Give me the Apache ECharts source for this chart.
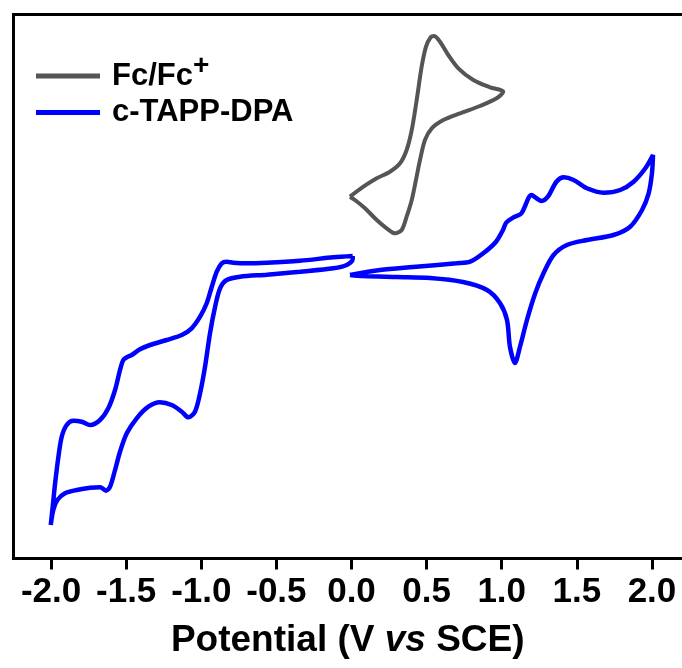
<!DOCTYPE html>
<html>
<head>
<meta charset="utf-8">
<script src="https://cdn.jsdelivr.net/npm/echarts@6/dist/echarts.min.js"></script>
<style>
html,body{margin:0;padding:0;background:#fff;}
#chart{width:682px;height:668px;}
</style>
</head>
<body>
<div id="chart"></div>
<script>
// Potential (V vs SCE) and current (arbitrary units)
var fcPotential = [-0.010,0.079,0.168,0.256,0.323,0.367,0.401,0.434,0.467,0.496,0.527,0.549,0.589,0.644,0.711,0.811,0.922,1.010,0.966,0.855,0.722,0.611,0.534,0.489,0.456,0.429,0.401,0.367,0.334,0.290,0.234,0.168,0.090,0.023,-0.010];
var fcCurrent = [36.18,37.18,38.02,38.68,39.52,40.85,42.85,45.85,49.18,51.18,52.12,52.25,51.68,50.35,49.02,47.85,47.12,46.68,46.02,45.25,44.52,43.85,43.02,41.85,39.85,37.85,35.85,34.18,32.85,32.52,33.02,33.85,35.02,35.85,36.18];

var negPotential = [0.008,-0.121,-0.343,-0.564,-0.698,-0.787,-0.831,-0.864,-0.897,-0.930,-0.964,-1.008,-1.064,-1.130,-1.230,-1.341,-1.408,-1.463,-1.496,-1.519,-1.541,-1.574,-1.619,-1.674,-1.740,-1.796,-1.852,-1.896,-1.929,-1.951,-1.973,-1.989,-2.002,-1.985,-1.958,-1.907,-1.829,-1.740,-1.674,-1.634,-1.607,-1.574,-1.541,-1.496,-1.430,-1.352,-1.275,-1.197,-1.130,-1.086,-1.042,-1.008,-0.975,-0.942,-0.908,-0.875,-0.831,-0.742,-0.564,-0.343,-0.121,-0.032,0.008,0.008];
var negCurrent = [30.25,30.12,29.78,29.58,29.52,29.58,29.68,29.52,28.68,27.18,25.52,24.18,23.02,22.35,21.85,21.35,20.92,20.35,20.12,19.85,18.85,16.85,15.02,13.85,13.35,13.68,13.78,13.35,12.18,10.18,7.52,5.18,3.35,4.85,5.85,6.52,6.85,7.08,7.12,6.78,7.18,8.85,10.68,12.52,14.02,15.18,15.62,15.35,14.68,14.12,14.68,16.52,19.18,22.52,25.18,27.02,27.85,28.18,28.38,28.68,29.02,29.35,29.92,30.25];

var posPotential = [-0.010,0.190,0.409,0.700,0.790,0.877,0.962,1.008,1.030,1.075,1.131,1.198,1.231,1.265,1.307,1.364,1.413,1.478,1.567,1.678,1.789,1.878,1.956,2.007,2.000,1.978,1.934,1.855,1.744,1.567,1.434,1.345,1.278,1.223,1.168,1.121,1.088,1.055,1.035,0.988,0.902,0.742,0.522,0.303,0.077,-0.010];
var posCurrent = [28.35,28.85,29.15,29.52,29.68,30.52,31.68,32.85,33.58,34.08,34.52,36.35,36.02,35.75,36.18,37.68,38.12,37.85,37.02,36.58,36.85,37.68,39.02,40.35,38.52,36.52,34.85,33.18,32.35,31.85,31.35,30.35,28.52,26.52,23.85,21.15,19.55,21.15,23.85,25.55,26.85,27.65,28.05,28.15,28.25,28.35];

var xTicks = [-2.0,-1.5,-1.0,-0.5,0.0,0.5,1.0,1.5,2.0];
var seriesNames = ['Fc/Fc+','c-TAPP-DPA'];

function pairs(xs, ys){ return xs.map(function(x,i){ return [x, ys[i]]; }); }

var chart = echarts.init(document.getElementById('chart'), null, {renderer:'canvas'});
var FONT = '"Liberation Sans", Arial, sans-serif';
function legendFmt(name){
  return name === 'Fc/Fc+' ? '{b|Fc/Fc}{s|+}' : '{b|' + name + '}';
}
var legendText = {
  color:'#000', fontFamily: FONT, fontWeight:'bold', fontSize:31, padding:[0,0,0,7],
  rich:{
    b:{fontFamily: FONT, fontWeight:'bold', fontSize:31, lineHeight:40, color:'#000'},
    s:{fontFamily: FONT, fontWeight:'bold', fontSize:28, color:'#000', padding:[0,0,20,0]}
  }
};
var frameLine = {show:true, onZero:false, lineStyle:{color:'#000', width:3, cap:'square'}};
chart.setOption({
  animation:false,
  backgroundColor:'#fff',
  grid:{left:13.5, right:0, top:14.5, bottom:109.5, show:false, containLabel:false},
  legend:[
    {data:[seriesNames[0]], left:36, top:52, padding:0, icon:'rect', itemWidth:64, itemHeight:5, formatter:legendFmt, textStyle:legendText},
    {data:[seriesNames[1]], left:36, top:97, padding:0, icon:'rect', itemWidth:64, itemHeight:5, formatter:legendFmt, textStyle:legendText}
  ],
  xAxis:[{
    type:'value', min:-2.25, max:2.2, position:'bottom',
    axisLine:frameLine,
    axisTick:{show:true, inside:false, length:11, lineStyle:{color:'#000', width:3}, customValues:xTicks},
    axisLabel:{show:true, margin:16, customValues:xTicks, color:'#000', fontFamily:FONT, fontWeight:'bold', fontSize:35,
      formatter:function(v){ return v.toFixed(1); }},
    splitLine:{show:false},
    name:'Potential (V {i|vs} SCE)', nameLocation:'middle', nameGap:64,
    nameTextStyle:{color:'#000', fontFamily:FONT, fontWeight:'bold', fontSize:37,
      rich:{i:{fontFamily:FONT, fontWeight:'bold', fontStyle:'italic', fontSize:37, color:'#000'}}}
  },{
    type:'value', min:-2.25, max:2.2, position:'top',
    axisLine:frameLine, axisTick:{show:false}, axisLabel:{show:false}, splitLine:{show:false}
  }],
  yAxis:{type:'value', min:0, max:54.4, position:'left',
    axisLine:frameLine, axisTick:{show:false}, axisLabel:{show:false}, splitLine:{show:false}},
  series:[
    {name:seriesNames[0], type:'line', data:pairs(fcPotential, fcCurrent), showSymbol:false, symbol:'none', smooth:0.3,
      lineStyle:{color:'#555555', width:4}, itemStyle:{color:'#555555'}},
    {name:seriesNames[1], type:'line', data:pairs(negPotential, negCurrent), showSymbol:false, symbol:'none', smooth:0.3,
      lineStyle:{color:'#0000ff', width:4.5}, itemStyle:{color:'#0000ff'}},
    {name:seriesNames[1], type:'line', data:pairs(posPotential, posCurrent), showSymbol:false, symbol:'none', smooth:0.3,
      lineStyle:{color:'#0000ff', width:4.5}, itemStyle:{color:'#0000ff'}}
  ]
});
</script>
</body>
</html>
